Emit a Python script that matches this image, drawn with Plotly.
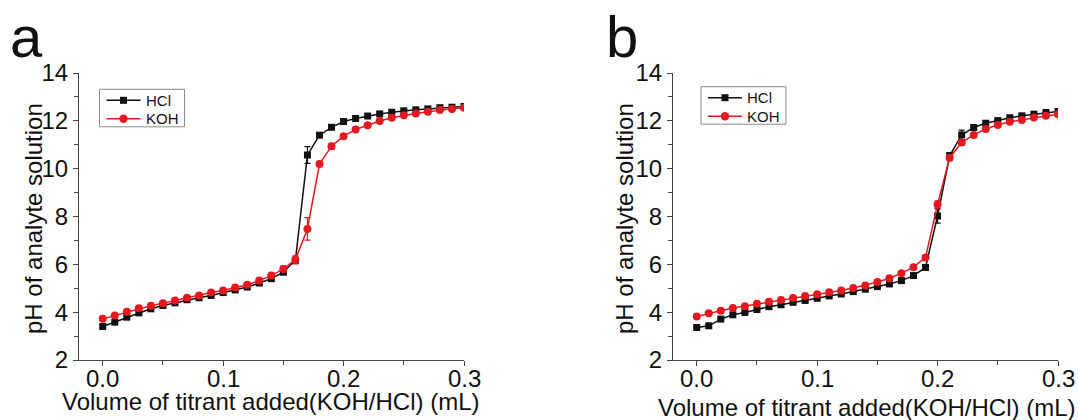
import plotly.graph_objects as go

volume = [round(i * 0.01, 2) for i in range(31)]

# Panel a
hcl_a = [3.40, 3.58, 3.79, 3.97, 4.14, 4.28, 4.39, 4.52, 4.60, 4.70, 4.82, 4.93, 5.05, 5.22, 5.40,
         5.67, 6.17, 10.57, 11.40, 11.73, 11.97, 12.10, 12.20, 12.29, 12.36, 12.42, 12.46, 12.50,
         12.55, 12.57, 12.60]
hcl_a_err = [0.05, 0.05, 0.05, 0.05, 0.05, 0.05, 0.05, 0.05, 0.05, 0.05, 0.05, 0.05, 0.05, 0.06, 0.08,
             0.08, 0.10, 0.35, 0.08, 0.06, 0.05, 0.05, 0.05, 0.05, 0.05, 0.05, 0.05, 0.05,
             0.05, 0.05, 0.05]
koh_a = [3.72, 3.86, 4.02, 4.16, 4.27, 4.37, 4.49, 4.60, 4.70, 4.82, 4.91, 5.03, 5.15, 5.32, 5.53,
         5.81, 6.20, 7.48, 10.19, 10.94, 11.36, 11.64, 11.82, 11.99, 12.13, 12.23, 12.31, 12.38,
         12.45, 12.50, 12.55]
koh_a_err = [0.05, 0.05, 0.05, 0.05, 0.05, 0.05, 0.05, 0.05, 0.05, 0.05, 0.05, 0.05, 0.05, 0.06, 0.10,
             0.12, 0.18, 0.47, 0.10, 0.12, 0.08, 0.05, 0.05, 0.05, 0.05, 0.05, 0.05, 0.05,
             0.05, 0.05, 0.08]

# Panel b
hcl_b = [3.36, 3.43, 3.71, 3.89, 3.99, 4.11, 4.23, 4.31, 4.41, 4.49, 4.58, 4.68, 4.76, 4.86, 4.96,
         5.07, 5.18, 5.32, 5.53, 5.87, 8.02, 10.54, 11.41, 11.72, 11.90, 12.01, 12.13, 12.21,
         12.28, 12.35, 12.39]
hcl_b_err = [0.05, 0.08, 0.05, 0.05, 0.05, 0.05, 0.05, 0.05, 0.05, 0.05, 0.05, 0.05, 0.05, 0.05, 0.05,
             0.05, 0.05, 0.05, 0.06, 0.08, 0.30, 0.12, 0.20, 0.08, 0.06, 0.05, 0.05, 0.05,
             0.05, 0.05, 0.05]
koh_b = [3.82, 3.95, 4.06, 4.17, 4.25, 4.35, 4.44, 4.51, 4.59, 4.68, 4.75, 4.83, 4.91, 5.01, 5.12,
         5.26, 5.42, 5.63, 5.88, 6.29, 8.50, 10.46, 11.09, 11.41, 11.66, 11.83, 11.96, 12.04,
         12.14, 12.21, 12.28]
koh_b_err = [0.05, 0.05, 0.05, 0.05, 0.05, 0.05, 0.05, 0.05, 0.05, 0.05, 0.05, 0.05, 0.05, 0.05, 0.05,
             0.05, 0.05, 0.05, 0.05, 0.08, 0.15, 0.12, 0.10, 0.06, 0.05, 0.05, 0.05, 0.05,
             0.05, 0.05, 0.05]

series_names = ["HCl", "KOH"]
y_ticks = [2, 4, 6, 8, 10, 12, 14]
x_ticks = [0.0, 0.1, 0.2, 0.3]
x_ticklabels = ["0.0", "0.1", "0.2", "0.3"]
x_title = "Volume of titrant added(KOH/HCl) (mL)"
y_title = "pH of analyte solution"

BLACK = "#111111"
RED = "#e3191f"
FONT = "Liberation Sans, Arial, sans-serif"
TXT = "#111111"
AX = "#444444"
FS = 24

W, H = 1078, 420
ML, MR, MT, MB = 79, 20, 73, 60
PW, PH = W - ML - MR, H - MT - MB

def px_x(px):
    return (px - ML) / PW

def px_y(py):
    return (H - MB - py) / PH

fig = go.Figure()

def add_series(x, y, err, name, color, symbol, size, xa, ya):
    fig.add_trace(go.Scatter(
        x=x, y=y, name=name, mode="lines+markers", showlegend=False,
        line=dict(color=color, width=1.5),
        marker=dict(color=color, symbol=symbol, size=size),
        error_y=dict(type="data", array=err, color=color, thickness=1.2, width=3),
        xaxis=xa, yaxis=ya,
    ))

add_series(volume, hcl_a, hcl_a_err, series_names[0], BLACK, "square", 7, "x", "y")
add_series(volume, koh_a, koh_a_err, series_names[1], RED, "circle", 8, "x", "y")
add_series(volume, hcl_b, hcl_b_err, series_names[0], BLACK, "square", 7, "x2", "y2")
add_series(volume, koh_b, koh_b_err, series_names[1], RED, "circle", 8, "x2", "y2")

axis_common = dict(
    showline=True, linecolor=AX, linewidth=1.2, mirror=False,
    showgrid=False, zeroline=False, automargin=False,
    ticks="outside", ticklen=5, tickwidth=1, tickcolor=AX,
    tickfont=dict(family=FONT, size=FS, color=TXT),
)

xa_common = dict(axis_common, range=[-0.0197, 0.3], tickvals=x_ticks, showticklabels=False,
                 minor=dict(tickvals=[0.05, 0.15, 0.25], ticks="outside", ticklen=4, tickcolor=AX))
ya_common = dict(axis_common, range=[2, 14], tickvals=y_ticks,
                 minor=dict(tickvals=[3, 5, 7, 9, 11, 13], ticks="outside", ticklen=4, tickcolor=AX))

fig.update_layout(
    width=W, height=H,
    margin=dict(l=ML, r=MR, t=MT, b=MB),
    paper_bgcolor="white", plot_bgcolor="white",
    showlegend=False,
    xaxis=dict(xa_common, domain=[0, px_x(464)], anchor="y"),
    yaxis=dict(ya_common, domain=[0, 1], anchor="x"),
    xaxis2=dict(xa_common, domain=[px_x(673), 1], anchor="y2"),
    yaxis2=dict(ya_common, domain=[0, 1], anchor="x2"),
)

# x tick labels placed at the axis' own tick values
for xr, ty in (("x", 378), ("x2", 379)):
    for v, lab in zip(x_ticks, x_ticklabels):
        fig.add_annotation(text=lab, xref=xr, yref="paper", x=v, y=px_y(ty),
                           xanchor="center", yanchor="middle", showarrow=False,
                           font=dict(family=FONT, size=FS, color=TXT))

# axis titles
for cx in (33, 624):
    fig.add_annotation(text=y_title, xref="paper", yref="paper",
                       x=px_x(cx), y=px_y(219), xanchor="center", yanchor="middle",
                       textangle=-90, showarrow=False,
                       font=dict(family=FONT, size=FS, color=TXT))
for cx, cy in ((270, 401), (866, 407)):
    fig.add_annotation(text=x_title, xref="paper", yref="paper",
                       x=px_x(cx), y=px_y(cy), xanchor="center", yanchor="middle",
                       showarrow=False, font=dict(family=FONT, size=FS, color=TXT))

# panel labels
fig.add_annotation(text="a", xref="paper", yref="paper", x=px_x(8), y=px_y(2),
                   xanchor="left", yanchor="top", showarrow=False,
                   font=dict(family=FONT, size=58, color=TXT))
fig.add_annotation(text="b", xref="paper", yref="paper", x=px_x(604), y=px_y(2),
                   xanchor="left", yanchor="top", showarrow=False,
                   font=dict(family=FONT, size=58, color=TXT))

# legends (drawn as a key box)
def add_key(left, top):
    bw, bh = 85, 37.5
    fig.add_shape(type="rect", xref="paper", yref="paper",
                  x0=px_x(left), x1=px_x(left + bw), y0=px_y(top), y1=px_y(top + bh),
                  line=dict(color="#8a8a8a", width=1), fillcolor="white", layer="above")
    rows = [(11, BLACK, "square", 3.5), (29.5, RED, "circle", 4.2)]
    for name, (dy, color, sym, r) in zip(series_names, rows):
        yy = px_y(top + dy)
        fig.add_shape(type="line", xref="paper", yref="paper",
                      x0=px_x(left + 7), x1=px_x(left + 41), y0=yy, y1=yy,
                      line=dict(color=color, width=1.5), layer="above")
        fig.add_shape(type="rect" if sym == "square" else "circle",
                      xref="paper", yref="paper", xsizemode="pixel", ysizemode="pixel",
                      xanchor=px_x(left + 24), yanchor=yy,
                      x0=-r, x1=r, y0=-r, y1=r,
                      line=dict(color=color, width=0), fillcolor=color, layer="above")
        fig.add_annotation(text=name, xref="paper", yref="paper",
                           x=px_x(left + 44), y=yy, xanchor="left", yanchor="middle",
                           showarrow=False, font=dict(family=FONT, size=15, color=TXT))

add_key(99.5, 89.3)
add_key(701, 86.7)

fig.write_html("out.html")
